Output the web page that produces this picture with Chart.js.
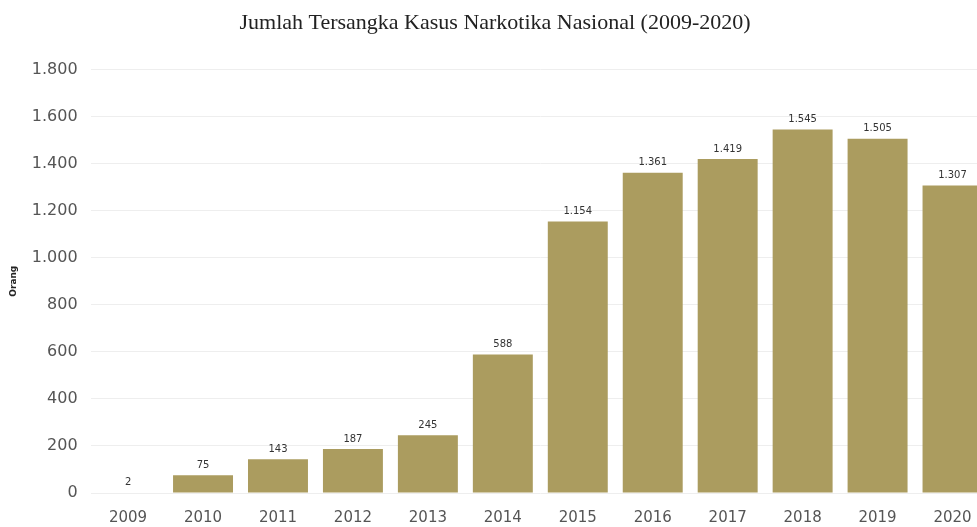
<!DOCTYPE html>
<html>
<head>
<meta charset="utf-8">
<script src="https://cdn.jsdelivr.net/npm/chart.js@4"></script>
<style>
    html, body { margin: 0; padding: 0; background: #fff; overflow: hidden; }
    #bar-chart { position: absolute; left: 0; top: 0; }
</style>
</head>
<body>
<!-- canvas is a bit larger than the window; the right and bottom edges get cut off like in the source image -->
<canvas id="bar-chart" width="990" height="543"></canvas>
<script>
const years = ['2009', '2010', '2011', '2012', '2013', '2014', '2015', '2016', '2017', '2018', '2019', '2020'];
const tersangka = [2, 75, 143, 187, 245, 588, 1154, 1361, 1419, 1545, 1505, 1307];
const yMin = 0;
const yMax = 1800;
const yStep = 200;

const titleText = 'Jumlah Tersangka Kasus Narkotika Nasional (2009-2020)';
const yTitle = 'Orang';

function formatId(n) {
    return String(n).replace(/\B(?=(\d{3})+(?!\d))/g, '.');
}

// draws the value above every bar
const valueLabels = {
    id: 'valueLabels',
    afterDatasetsDraw(chart) {
        const ctx = chart.ctx;
        const meta = chart.getDatasetMeta(0);
        ctx.save();
        ctx.font = '10px "DejaVu Sans"';
        ctx.fillStyle = '#333';
        ctx.textAlign = 'center';
        ctx.textBaseline = 'bottom';
        meta.data.forEach((bar, i) => {
            ctx.fillText(formatId(chart.data.datasets[0].data[i]), bar.x, bar.y - 5);
        });
        ctx.restore();
    }
};

const chart = new Chart(document.getElementById('bar-chart'), {
    type: 'bar',
    data: {
        labels: years,
        datasets: [{
            label: yTitle,
            data: tersangka,
            backgroundColor: '#ab9c5f',
            borderWidth: 0,
            barPercentage: 0.8,
            categoryPercentage: 1.0
        }]
    },
    options: {
        responsive: false,
        animation: false,
        layout: { padding: { left: 0, right: 0, top: 4, bottom: 0 } },
        plugins: {
            legend: { display: false },
            tooltip: { enabled: false },
            title: {
                display: true,
                text: titleText,
                color: '#222',
                font: { family: '"Liberation Serif"', size: 22, weight: 'normal' },
                padding: { top: 6, bottom: 33 }
            }
        },
        scales: {
            x: {
                grid: { display: false, drawTicks: false },
                border: { display: false },
                ticks: {
                    color: '#555',
                    font: { family: '"DejaVu Sans"', size: 15 },
                    padding: 16,
                    maxRotation: 0
                }
            },
            y: {
                min: yMin,
                max: yMax,
                grid: { color: '#eeeeee', drawTicks: false },
                border: { display: false },
                ticks: {
                    stepSize: yStep,
                    color: '#555',
                    font: { family: '"DejaVu Sans"', size: 16 },
                    padding: 13,
                    callback: v => formatId(v)
                },
                title: {
                    display: true,
                    text: yTitle,
                    color: '#222',
                    font: { family: '"DejaVu Sans"', size: 9, weight: 'bold' },
                    padding: { top: 8, bottom: 0 }
                }
            }
        }
    },
    plugins: [valueLabels]
});
</script>
</body>
</html>
